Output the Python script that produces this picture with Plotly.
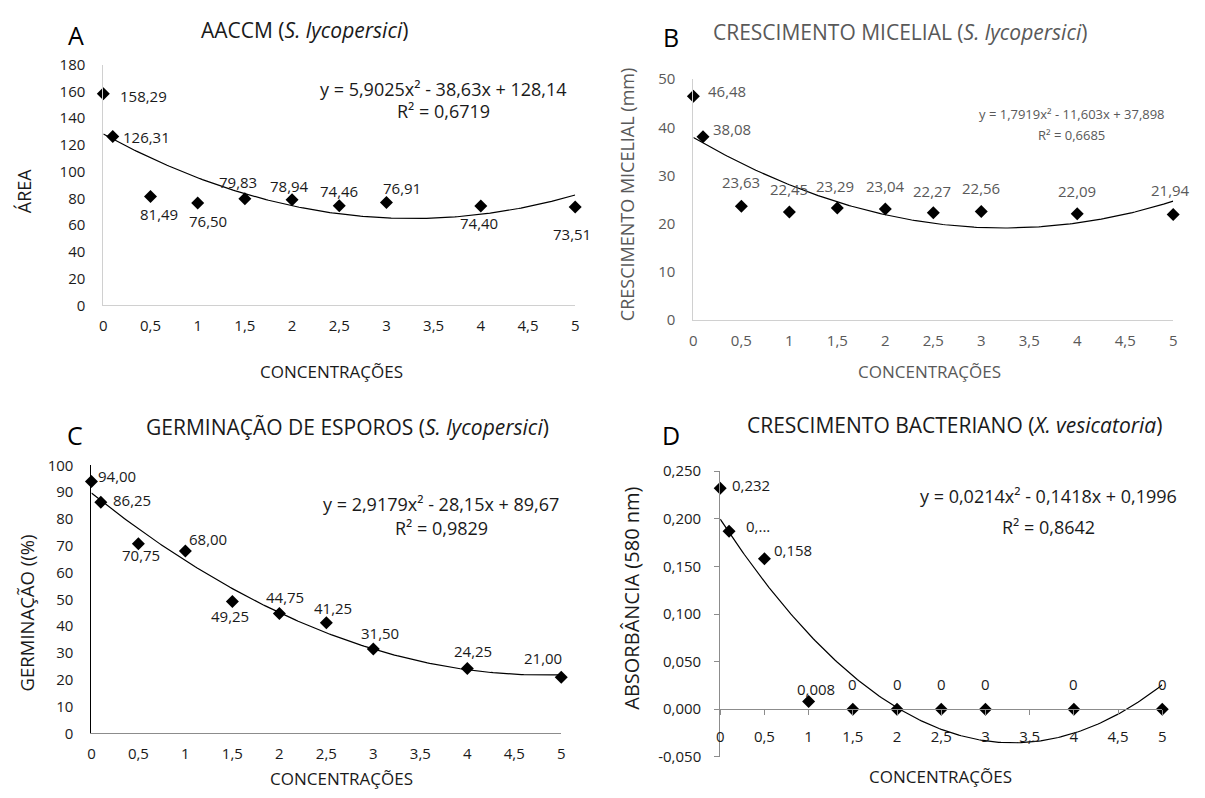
import numpy as np
import plotly.graph_objects as go

# ---------------- data ----------------
conc = [0, 0.1, 0.5, 1, 1.5, 2, 2.5, 3, 4, 5]
x_ticks = [0, 0.5, 1, 1.5, 2, 2.5, 3, 3.5, 4, 4.5, 5]
x_ticktext = ["0", "0,5", "1", "1,5", "2", "2,5", "3", "3,5", "4", "4,5", "5"]

aaccm = [158.29, 126.31, 81.49, 76.50, 79.83, 78.94, 74.46, 76.91, 74.40, 73.51]
micelial = [46.48, 38.08, 23.63, 22.45, 23.29, 23.04, 22.27, 22.56, 22.09, 21.94]
germinacao = [94.00, 86.25, 70.75, 68.00, 49.25, 44.75, 41.25, 31.50, 24.25, 21.00]
absorbancia = [0.232, 0.187, 0.158, 0.008, 0, 0, 0, 0, 0, 0]
absorbancia_labels = ["0,232", "0,...", "0,158", "0,008", "0", "0", "0", "0", "0", "0"]

# trendline coefficients as printed on the chart (a, b, c for a*x^2 + b*x + c)
coef_a = [5.9025, -38.63, 128.14]
coef_b = [1.7919, -11.603, 37.898]
coef_c = [2.9179, -28.15, 89.67]
coef_d = [0.0214, -0.1418, 0.1996]

eq_a = ["y = 5,9025x² - 38,63x + 128,14", "R² = 0,6719"]
eq_b = ["y = 1,7919x² - 11,603x + 37,898", "R² = 0,6685"]
eq_c = ["y = 2,9179x² - 28,15x + 89,67", "R² = 0,9829"]
eq_d = ["y = 0,0214x² - 0,1418x + 0,1996", "R² = 0,8642"]

ticks_a = [0, 20, 40, 60, 80, 100, 120, 140, 160, 180]
ticks_b = [0, 10, 20, 30, 40, 50]
ticks_c = [0, 10, 20, 30, 40, 50, 60, 70, 80, 90, 100]
ticks_d = [-0.05, 0, 0.05, 0.10, 0.15, 0.20, 0.25]
ticks_d_text = ["-0,050", "0,000", "0,050", "0,100", "0,150", "0,200", "0,250"]

# ---------------- layout helpers ----------------
W, H = 1205, 798
FONT = "Open Sans, Lato, sans-serif"
DARK = "#1a1a1a"
GREY = "#595959"


def px_x(p):
    return p / W


def px_y(p):
    return 1 - p / H


def fmt(v):
    return f"{v:.2f}".replace(".", ",")


fig = go.Figure()

panels = [
    dict(xa="x", ya="y", xd=(100, 575), yd=(55, 302), yr=[0, 180], yticks=ticks_a,
         ytext=[str(t) for t in ticks_a], vals=aaccm, labels=[fmt(v) for v in aaccm],
         coef=coef_a, col=DARK, ycol="#d0d0d0", xcol="#d0d0d0",
         dx=[40, 34, 8, 10, -7, -3, 0, 16, -2, -3],
         dy=[2, 1, 18, 18, -17, -14, -15, -15, 17, 27]),
    dict(xa="x2", ya="y2", xd=(694, 1177), yd=(70, 317), yr=[0, 50], yticks=ticks_b,
         ytext=[str(t) for t in ticks_b], vals=micelial, labels=[fmt(v) for v in micelial],
         coef=coef_b, col=GREY, ycol="#d0d0d0", xcol="#d0d0d0",
         dx=[34, 29, 0, 0, -2, 0, -1, 0, 0, -3],
         dy=[-5, -8, -24, -23, -22, -23, -22, -23, -23, -24]),
    dict(xa="x3", ya="y3", xd=(88, 561), yd=(466, 741), yr=[0, 100], yticks=ticks_c,
         ytext=[str(t) for t in ticks_c], vals=germinacao, labels=[fmt(v) for v in germinacao],
         coef=coef_c, col=DARK, ycol="#000000", xcol="#8c8c8c",
         dx=[26, 31, 3, 23, -2, 6, 7, 7, 6, -18],
         dy=[-5, -2, 11, -12, 15, -16, -15, -16, -17, -19]),
    dict(xa="x4", ya="y4", xd=(721, 1166), yd=(472, 765), yr=[-0.05, 0.25], yticks=ticks_d,
         ytext=ticks_d_text, vals=absorbancia, labels=absorbancia_labels,
         coef=coef_d, col=DARK, ycol="#8c8c8c", xcol="#8c8c8c",
         dx=[31, 29, 29, 7, 0, 0, 0, 0, 0, 0],
         dy=[-3, -5, -9, -13, -25, -25, -25, -25, -25, -25]),
]

xfit = np.linspace(0, 5, 201)
annotations = []
layout_axes = {}

for i, p in enumerate(panels):
    n = "" if i == 0 else str(i + 1)
    yfit = np.polyval(p["coef"], xfit)
    fig.add_trace(go.Scatter(x=xfit, y=yfit, mode="lines", xaxis=p["xa"], yaxis=p["ya"],
                             line=dict(color="#000000", width=1.2), showlegend=False,
                             hoverinfo="skip"))
    fig.add_trace(go.Scatter(x=conc, y=p["vals"], mode="markers", xaxis=p["xa"], yaxis=p["ya"],
                             marker=dict(symbol="diamond", size=10, color="#000000"),
                             showlegend=False, cliponaxis=False))
    ydom = [px_y(p["yd"][1]), px_y(p["yd"][0])]
    xaxis = dict(domain=[px_x(p["xd"][0]), px_x(p["xd"][1])], range=[0, 5],
                 tickvals=x_ticks, ticktext=x_ticktext, showgrid=False, zeroline=False,
                 showline=True, linecolor=p["xcol"], linewidth=1,
                 tickfont=dict(family=FONT, size=15, color=p["col"]),
                 anchor=p["ya"], fixedrange=True, ticklabelstandoff=7)
    yaxis = dict(domain=ydom, range=p["yr"], tickvals=p["yticks"], ticktext=p["ytext"],
                 showgrid=False, zeroline=False, showline=True, linecolor=p["ycol"],
                 linewidth=1, tickfont=dict(family=FONT, size=15, color=p["col"]),
                 anchor=p["xa"], fixedrange=True, ticklabelstandoff=14)
    if i == 3:
        frac = (0 - p["yr"][0]) / (p["yr"][1] - p["yr"][0])
        xaxis.update(anchor="free", position=ydom[0] + (ydom[1] - ydom[0]) * frac,
                     ticks="outside", ticklen=5, tickcolor=p["xcol"], ticklabelstandoff=9)
        yaxis.update(ticks="outside", ticklen=5, tickcolor=p["ycol"], ticklabelstandoff=10)
    layout_axes["xaxis" + n] = xaxis
    layout_axes["yaxis" + n] = yaxis
    for xv, yv, lab, dx, dy in zip(conc, p["vals"], p["labels"], p["dx"], p["dy"]):
        annotations.append(dict(x=xv, y=yv, xref=p["xa"], yref=p["ya"], text=lab,
                                showarrow=False, xshift=dx, yshift=-dy,
                                font=dict(family=FONT, size=15, color=p["col"])))


def eq(lines, cx, ys, size, color):
    for t, yy in zip(lines, ys):
        annotations.append(dict(x=px_x(cx), y=px_y(yy), xref="paper", yref="paper", text=t,
                                showarrow=False, xanchor="center", yanchor="middle",
                                font=dict(family=FONT, size=size, color=color)))


eq(eq_a, 442, [80, 103], 18, DARK)
eq(eq_b, 1075, [106, 127], 13, GREY)
eq(eq_c, 440, [506, 530], 18, DARK)
eq(eq_d, 1051, [497, 529], 18, DARK)


def txt(t, cx, cy, size, color, angle=0):
    annotations.append(dict(x=px_x(cx), y=px_y(cy), xref="paper", yref="paper", text=t,
                            showarrow=False, xanchor="center", yanchor="middle",
                            textangle=angle, font=dict(family=FONT, size=size, color=color)))


txt("AACCM (<i>S. lycopersici</i>)", 303, 20, 21, DARK)
txt("CRESCIMENTO MICELIAL (<i>S. lycopersici</i>)", 902, 22, 21, GREY)
txt("GERMINAÇÃO DE ESPOROS (<i>S. lycopersici</i>)", 346, 427, 21, DARK)
txt("CRESCIMENTO BACTERIANO (<i>X. vesicatoria</i>)", 957, 425, 21, DARK)

txt("A", 72, 25, 25, "#000000")
txt("B", 671, 27, 25, "#000000")
txt("C", 71, 435, 25, "#000000")
txt("D", 671, 435, 25, "#000000")

txt("CONCENTRAÇÕES", 330, 370, 17, DARK)
txt("CONCENTRAÇÕES", 932, 370, 17, GREY)
txt("CONCENTRAÇÕES", 340, 787, 17, DARK)
txt("CONCENTRAÇÕES", 943, 785, 17, DARK)

txt("ÁREA", 21, 185, 18, DARK, -90)
txt("CRESCIMENTO MICELIAL (mm)", 627, 188, 18, GREY, -90)
txt("GERMINAÇÃO ((%)", 23, 617, 18.5, DARK, -90)
txt("ABSORBÂNCIA (580 nm)", 632, 602, 20, DARK, -90)

fig.update_layout(
    width=W, height=H, margin=dict(l=0, r=0, t=0, b=0, pad=0),
    paper_bgcolor="#ffffff", plot_bgcolor="#ffffff",
    font=dict(family=FONT, size=15, color=DARK),
    annotations=annotations, showlegend=False, **layout_axes,
)

fig.write_html("out.html", include_plotlyjs=True,
               config={"displayModeBar": False, "staticPlot": True},
               post_script="document.body.style.margin='0px';document.body.style.overflow='hidden';")
